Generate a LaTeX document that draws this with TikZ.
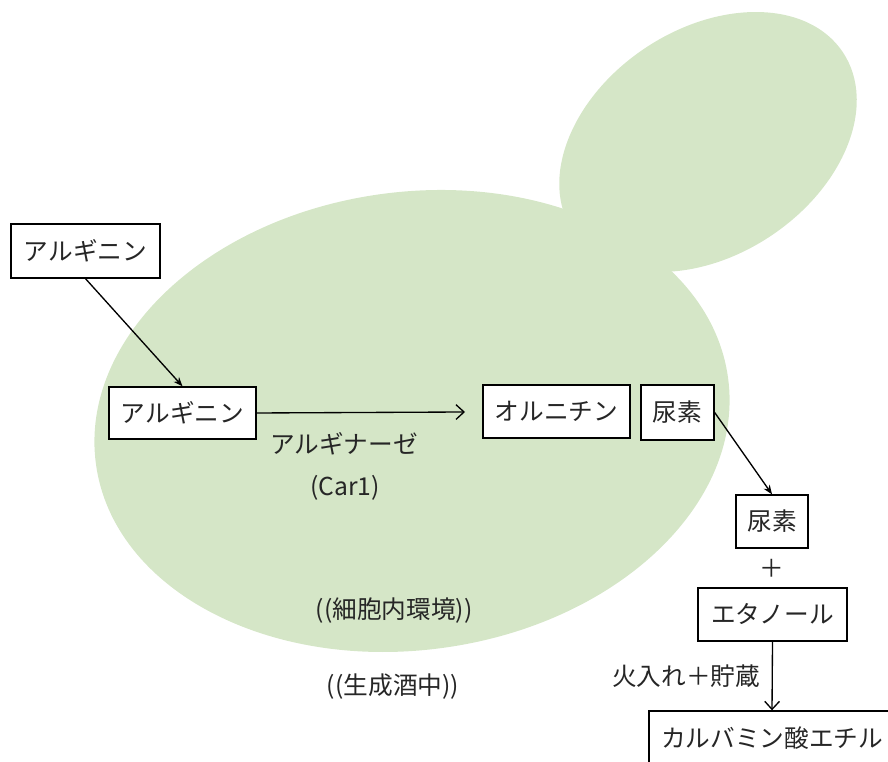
\documentclass[tikz,border=0pt]{standalone}
\usepackage{fontspec}
\setmainfont{Noto Sans CJK JP}
\usetikzlibrary{arrows.meta}
\definecolor{cellgreen}{RGB}{213,230,199}
\tikzset{
  boxnode/.style={draw=black, line width=1pt, fill=white, inner sep=0pt,
    text=black!85, font=\fontsize{18.5pt}{22pt}\selectfont},
  lbl/.style={inner sep=0pt, font=\fontsize{18.5pt}{22pt}\selectfont, text=black!85},
  flow/.style={line width=1pt, -{Stealth[length=7pt,width=5.5pt]}},
  openflow/.style={line width=1pt, -{Straight Barb[length=6pt,width=11pt]}}
}
\begin{document}
\begin{tikzpicture}[x=0.75pt,y=0.75pt]
\useasboundingbox (0,0) rectangle (888,762);
% yeast cell: mother cell and bud
\fill[cellgreen] (708,620) ellipse [x radius=162, y radius=113, rotate=33.6];
\fill[cellgreen] (412,341) ellipse [x radius=319, y radius=229, rotate=7.8];

% compounds
\node[boxnode, minimum width=149*0.75pt, minimum height=54*0.75pt] (argout) at (85.5,511) {アルギニン};
\node[boxnode, minimum width=147*0.75pt, minimum height=52*0.75pt] (argin) at (182.5,349) {アルギニン};
\node[boxnode, minimum width=147*0.75pt, minimum height=53*0.75pt] (orn) at (556.5,350.5) {オルニチン};
\node[boxnode, minimum width=73*0.75pt, minimum height=55*0.75pt] (ureain) at (677.5,349.5) {尿素};
\node[boxnode, minimum width=72*0.75pt, minimum height=53*0.75pt] (ureaout) at (772,240.5) {尿素};
\node[boxnode, minimum width=149*0.75pt, minimum height=53*0.75pt] (etoh) at (772.5,147.5) {エタノール};
\node[boxnode, minimum width=246*0.75pt, minimum height=54*0.75pt] (ec) at (772,24) {カルバミン酸エチル};

% labels
\node[lbl] (enz) at (344,318) {アルギナーゼ};
\node[lbl] (gene) at (345,274) {(Car1)};
\node[lbl] (cellin) at (394,151) {((細胞内環境))};
\node[lbl] (sake) at (393,75) {((生成酒中))};
\node[lbl] (plus) at (772,194) {＋};
\node[lbl] (heat) at (686,86) {火入れ＋貯蔵};

% reactions
\coordinate (argend) at (465,350);
\draw[flow] (argout.south) -- (argin.north);
\draw[openflow] (argin.east) -- (argend);
\draw[flow] (ureain.east) -- (ureaout.north);
\draw[openflow] (etoh.south) -- (ec.north);
\end{tikzpicture}
\end{document}
